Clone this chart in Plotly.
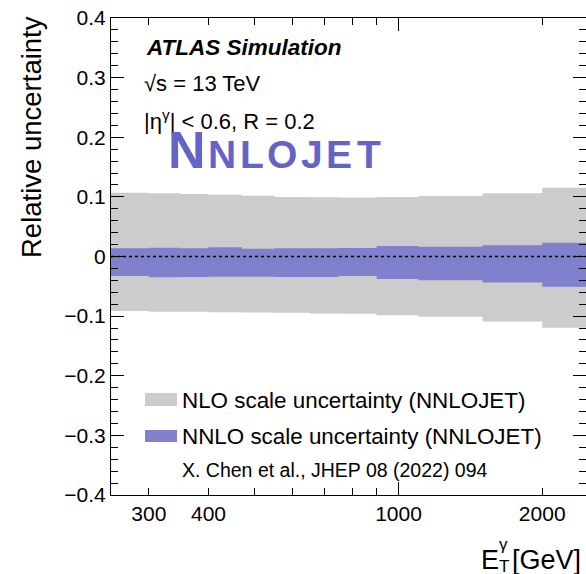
import math
import plotly.graph_objects as go

# Photon transverse-energy bin edges [GeV]
et_edges = [250, 300, 350, 400, 470, 550, 650, 750, 900, 1100, 1500, 2000, 2500]

# NLO scale uncertainty envelope (relative), one value per bin
nlo_up = [0.107, 0.106, 0.105, 0.1035, 0.102, 0.1, 0.0995, 0.099, 0.1, 0.1015, 0.106, 0.1155]
nlo_dn = [-0.0915, -0.0925, -0.0925, -0.0935, -0.094, -0.0945, -0.0955, -0.096, -0.0985, -0.101, -0.109, -0.1195]

# NNLO scale uncertainty envelope (relative), one value per bin
nnlo_up = [0.0137, 0.0148, 0.0137, 0.0157, 0.0128, 0.0137, 0.0137, 0.0142, 0.0176, 0.0162, 0.019, 0.0229]
nnlo_dn = [-0.0327, -0.035, -0.0345, -0.034, -0.034, -0.0344, -0.0344, -0.0327, -0.0378, -0.04, -0.0438, -0.0508]

# Axis ticks
x_label_ticks = [300, 400, 1000, 2000]
x_long_ticks = [1000]
x_short_ticks = [300, 400, 500, 600, 700, 800, 900, 2000]
y_ticks = [-0.4, -0.3, -0.2, -0.1, 0.0, 0.1, 0.2, 0.3, 0.4]

W, H = 586, 574
ML, MR, MT, MB = 111, 0, 18, 79
PW, PH = W - ML - MR, H - MT - MB

FONT = "Liberation Sans, Arial, Helvetica, sans-serif"
GRAY = "#CCCCCC"
PURPLE = "#8080CC"
LOGO = "#6464C8"

X_MIN, X_MAX = 250, 2470


def px(xp):
    return (xp - ML) / PW


def py(yp):
    return (H - MB - yp) / PH


def step(vals):
    return list(vals) + [vals[-1]]


def ylab(v):
    if abs(v) < 1e-9:
        return "0"
    s = f"{abs(v):.1f}"
    return ("\u2212" + s) if v < 0 else s


fig = go.Figure()

band_line = dict(width=0, shape="hv")
fig.add_trace(go.Scatter(x=et_edges, y=step(nlo_dn), mode="lines", line=band_line,
                         showlegend=False, hoverinfo="skip"))
fig.add_trace(go.Scatter(x=et_edges, y=step(nlo_up), mode="lines", line=band_line,
                         fill="tonexty", fillcolor=GRAY, showlegend=False, hoverinfo="skip"))
fig.add_trace(go.Scatter(x=et_edges, y=step(nnlo_dn), mode="lines", line=band_line,
                         showlegend=False, hoverinfo="skip"))
fig.add_trace(go.Scatter(x=et_edges, y=step(nnlo_up), mode="lines", line=band_line,
                         fill="tonexty", fillcolor=PURPLE, showlegend=False, hoverinfo="skip"))
# reference line at zero
fig.add_trace(go.Scatter(x=[et_edges[0], et_edges[-1]], y=[0, 0], mode="lines",
                         line=dict(color="black", width=1.5, dash="3px,3px"),
                         showlegend=False, hoverinfo="skip"))

# invisible anchors for the extra tick axes
for xa, ya in (("x2", "y"), ("x3", "y"), ("x", "y2")):
    fig.add_trace(go.Scatter(x=[1000], y=[0], xaxis=xa, yaxis=ya, mode="markers",
                             marker=dict(opacity=0), showlegend=False, hoverinfo="skip"))

xr = [math.log10(X_MIN), math.log10(X_MAX)]
common_x = dict(type="log", range=xr, showgrid=False, zeroline=False,
                tickcolor="black", tickwidth=1)

fig.update_layout(
    width=W, height=H,
    margin=dict(l=ML, r=MR, t=MT, b=MB, pad=0),
    paper_bgcolor="white", plot_bgcolor="white",
    font=dict(family=FONT, color="black"),
    xaxis=dict(**common_x, showline=True, linecolor="black", linewidth=1, mirror=False,
               tickvals=x_label_ticks, ticktext=[str(v) for v in x_label_ticks],
               ticks="inside", ticklen=7, tickfont=dict(size=21, family=FONT),
               minor=dict(tickvals=[v for v in x_short_ticks if v not in x_label_ticks],
                          ticks="inside", ticklen=7, tickcolor="black", showgrid=False)),
    xaxis2=dict(**common_x, overlaying="x", anchor="y", side="bottom", showline=False,
                tickvals=x_long_ticks, ticks="inside", ticklen=13, showticklabels=False),
    xaxis3=dict(**common_x, overlaying="x", anchor="y", side="top", showline=True,
                linecolor="black", linewidth=1,
                tickvals=x_long_ticks, ticks="inside", ticklen=13, showticklabels=False,
                minor=dict(tickvals=x_short_ticks, ticks="inside", ticklen=7,
                           tickcolor="black", showgrid=False)),
    yaxis=dict(range=[-0.4, 0.4], showgrid=False, zeroline=False, showline=True,
               linecolor="black", linewidth=1, mirror=False,
               tickvals=y_ticks, ticktext=[ylab(v) for v in y_ticks],
               ticks="inside", ticklen=13, tickcolor="black", tickwidth=1,
               tickfont=dict(size=21, family=FONT),
               minor=dict(dtick=0.02, tick0=0, ticks="inside", ticklen=7,
                          tickcolor="black", showgrid=False)),
    yaxis2=dict(range=[-0.4, 0.4], overlaying="y", anchor="x", side="right",
                showgrid=False, zeroline=False, showline=False,
                tickvals=y_ticks, ticks="inside", ticklen=13, tickcolor="black",
                tickwidth=1, showticklabels=False,
                minor=dict(dtick=0.02, tick0=0, ticks="inside", ticklen=7,
                           tickcolor="black", showgrid=False)),
)

ann = []


def text(s, x, y, size, xanchor="left", yanchor="middle", color="black", angle=0):
    ann.append(dict(text=s, x=px(x), y=py(y), xref="paper", yref="paper",
                    xanchor=xanchor, yanchor=yanchor, showarrow=False, textangle=angle,
                    borderpad=0, font=dict(family=FONT, size=size, color=color)))


text("<b><i>ATLAS Simulation</i></b>", 145, 48, 22.5)
text("\u221As = 13 TeV", 143, 84, 22)
text("|\u03b7<sup>\u03b3</sup>| &lt; 0.6, R = 0.2", 143, 120, 22)

# NNLOJET logo: large initial followed by small capitals
text("<b>N</b>", 186.5, 150, 52, xanchor="center", color=LOGO)
for ch, cx in zip("NLOJET", [221.5, 252, 282, 312, 339, 368.5]):
    text(f"<b>{ch}</b>", cx, 154.5, 39, xanchor="center", color=LOGO)

# legend
legend_rows = [("NLO scale uncertainty (NNLOJET)", GRAY, 393, 406, 400),
               ("NNLO scale uncertainty (NNLOJET)", PURPLE, 430, 442, 436)]
shapes = []
for label, col, y0, y1, yc in legend_rows:
    shapes.append(dict(type="rect", xref="paper", yref="paper",
                       x0=px(145), x1=px(177), y0=py(y1), y1=py(y0),
                       fillcolor=col, line=dict(width=0)))
    text(label, 181, yc, 22.4)
text("X. Chen et al., JHEP 08 (2022) 094", 181, 470, 19.5)

# axis titles
text("Relative uncertainty", 31, 15, 27.5, xanchor="center", yanchor="top", angle=-90)
text("E", 480, 560, 27)
text("\u03b3", 498, 544, 17)
text("T", 498, 566, 17)
text("[GeV]", 511, 560, 27)

fig.update_layout(annotations=ann, shapes=shapes)
fig.write_html("out.html")
